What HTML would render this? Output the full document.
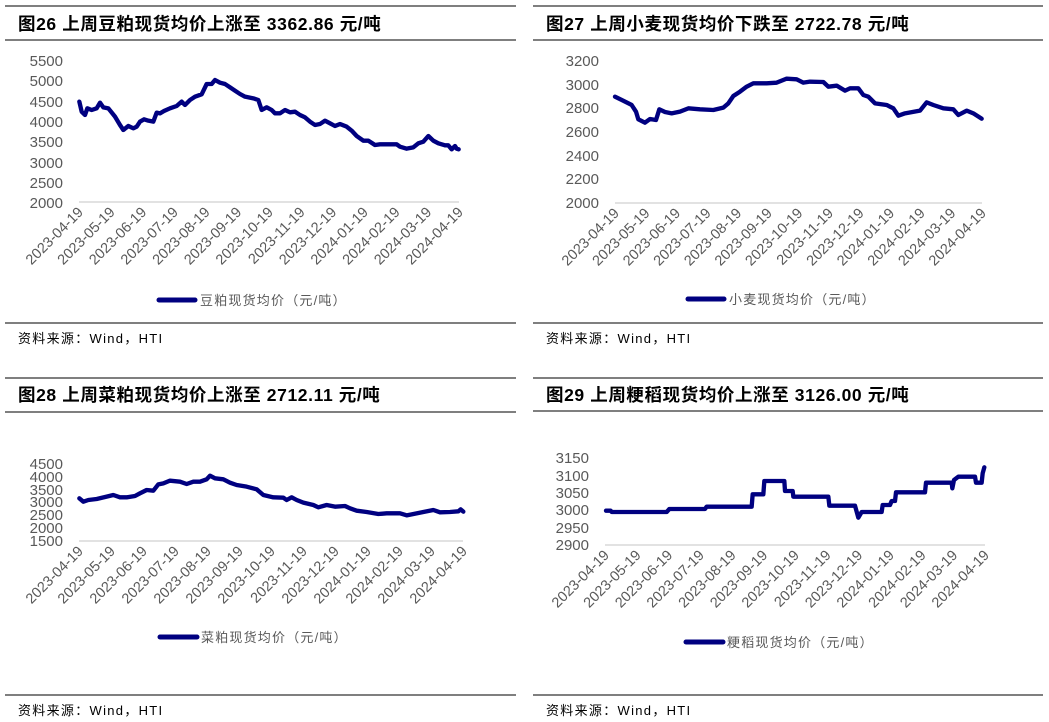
<!DOCTYPE html>
<html><head><meta charset="utf-8"><style>
body{margin:0;background:#fff}
svg{display:block;font-family:"Liberation Sans","Noto Sans CJK SC",sans-serif}
.t{font-size:17.5px;font-weight:bold;fill:#000;letter-spacing:0.6px}
.y{font-size:15px;fill:#595959;text-anchor:end}
.x text{font-size:14.5px;fill:#595959;text-anchor:end}
.lg{font-size:13px;fill:#595959;letter-spacing:1.2px}
.src{font-size:13px;fill:#000;letter-spacing:1.3px}
.s{fill:none;stroke:#000080;stroke-width:13;stroke-linejoin:round;stroke-linecap:round}
</style></head><body>
<svg width="1049" height="722" viewBox="0 0 1049 722">
<g stroke="#555" stroke-width="1.5">
<line x1="5" y1="6" x2="516" y2="6"/><line x1="5" y1="40" x2="516" y2="40"/><line x1="5" y1="323" x2="516" y2="323"/>
<line x1="533" y1="6" x2="1043" y2="6"/><line x1="533" y1="40" x2="1043" y2="40"/><line x1="533" y1="323" x2="1043" y2="323"/>
<line x1="5" y1="378" x2="516" y2="378"/><line x1="5" y1="412" x2="516" y2="412"/><line x1="5" y1="695" x2="516" y2="695"/>
<line x1="533" y1="378" x2="1043" y2="378"/><line x1="533" y1="411" x2="1043" y2="411"/><line x1="533" y1="695" x2="1043" y2="695"/>
</g>
<text class="t" x="18" y="30">图26 上周豆粕现货均价上涨至 3362.86 元/吨</text>
<text class="t" x="546" y="30">图27 上周小麦现货均价下跌至 2722.78 元/吨</text>
<text class="t" x="18" y="401">图28 上周菜粕现货均价上涨至 2712.11 元/吨</text>
<text class="t" x="546" y="401">图29 上周粳稻现货均价上涨至 3126.00 元/吨</text>
<text class="src" x="18" y="343">资料来源：Wind，HTI</text>
<text class="src" x="546" y="343">资料来源：Wind，HTI</text>
<text class="src" x="18" y="715">资料来源：Wind，HTI</text>
<text class="src" x="546" y="715">资料来源：Wind，HTI</text>

<g stroke="#d9d9d9" stroke-width="1.5">
<line x1="79" y1="202" x2="459" y2="202"/><line x1="615" y1="203" x2="982" y2="203"/>
<line x1="79" y1="541" x2="463" y2="541"/><line x1="605" y1="545" x2="985" y2="545"/>
</g>

<g class="y">
<text x="63" y="66">5500</text><text x="63" y="86">5000</text><text x="63" y="107">4500</text><text x="63" y="127">4000</text><text x="63" y="147">3500</text><text x="63" y="168">3000</text><text x="63" y="188">2500</text><text x="63" y="208">2000</text>
<text x="599" y="66">3200</text><text x="599" y="90">3000</text><text x="599" y="113">2800</text><text x="599" y="137">2600</text><text x="599" y="161">2400</text><text x="599" y="184">2200</text><text x="599" y="208">2000</text>
<text x="63" y="469">4500</text><text x="63" y="482">4000</text><text x="63" y="495">3500</text><text x="63" y="507">3000</text><text x="63" y="520">2500</text><text x="63" y="533">2000</text><text x="63" y="546">1500</text>
<text x="589" y="463">3150</text><text x="589" y="481">3100</text><text x="589" y="498">3050</text><text x="589" y="515">3000</text><text x="589" y="533">2950</text><text x="589" y="550">2900</text>
</g>

<g class="x" transform="translate(84,213)">
<text transform="translate(0,0) rotate(-45)">2023-04-19</text><text transform="translate(31.7,0) rotate(-45)">2023-05-19</text><text transform="translate(63.3,0) rotate(-45)">2023-06-19</text><text transform="translate(95,0) rotate(-45)">2023-07-19</text><text transform="translate(126.7,0) rotate(-45)">2023-08-19</text><text transform="translate(158.3,0) rotate(-45)">2023-09-19</text><text transform="translate(190,0) rotate(-45)">2023-10-19</text><text transform="translate(221.7,0) rotate(-45)">2023-11-19</text><text transform="translate(253.3,0) rotate(-45)">2023-12-19</text><text transform="translate(285,0) rotate(-45)">2024-01-19</text><text transform="translate(316.7,0) rotate(-45)">2024-02-19</text><text transform="translate(348.3,0) rotate(-45)">2024-03-19</text><text transform="translate(380,0) rotate(-45)">2024-04-19</text>
</g>
<g class="x" transform="translate(620,214)">
<text transform="translate(0,0) rotate(-45)">2023-04-19</text><text transform="translate(30.6,0) rotate(-45)">2023-05-19</text><text transform="translate(61.2,0) rotate(-45)">2023-06-19</text><text transform="translate(91.7,0) rotate(-45)">2023-07-19</text><text transform="translate(122.3,0) rotate(-45)">2023-08-19</text><text transform="translate(152.9,0) rotate(-45)">2023-09-19</text><text transform="translate(183.5,0) rotate(-45)">2023-10-19</text><text transform="translate(214.1,0) rotate(-45)">2023-11-19</text><text transform="translate(244.7,0) rotate(-45)">2023-12-19</text><text transform="translate(275.2,0) rotate(-45)">2024-01-19</text><text transform="translate(305.8,0) rotate(-45)">2024-02-19</text><text transform="translate(336.4,0) rotate(-45)">2024-03-19</text><text transform="translate(367,0) rotate(-45)">2024-04-19</text>
</g>
<g class="x" transform="translate(84,552)">
<text transform="translate(0,0) rotate(-45)">2023-04-19</text><text transform="translate(32,0) rotate(-45)">2023-05-19</text><text transform="translate(64,0) rotate(-45)">2023-06-19</text><text transform="translate(96,0) rotate(-45)">2023-07-19</text><text transform="translate(128,0) rotate(-45)">2023-08-19</text><text transform="translate(160,0) rotate(-45)">2023-09-19</text><text transform="translate(192,0) rotate(-45)">2023-10-19</text><text transform="translate(224,0) rotate(-45)">2023-11-19</text><text transform="translate(256,0) rotate(-45)">2023-12-19</text><text transform="translate(288,0) rotate(-45)">2024-01-19</text><text transform="translate(320,0) rotate(-45)">2024-02-19</text><text transform="translate(352,0) rotate(-45)">2024-03-19</text><text transform="translate(384,0) rotate(-45)">2024-04-19</text>
</g>
<g class="x" transform="translate(610,556)">
<text transform="translate(0,0) rotate(-45)">2023-04-19</text><text transform="translate(31.7,0) rotate(-45)">2023-05-19</text><text transform="translate(63.3,0) rotate(-45)">2023-06-19</text><text transform="translate(95,0) rotate(-45)">2023-07-19</text><text transform="translate(126.7,0) rotate(-45)">2023-08-19</text><text transform="translate(158.3,0) rotate(-45)">2023-09-19</text><text transform="translate(190,0) rotate(-45)">2023-10-19</text><text transform="translate(221.7,0) rotate(-45)">2023-11-19</text><text transform="translate(253.3,0) rotate(-45)">2023-12-19</text><text transform="translate(285,0) rotate(-45)">2024-01-19</text><text transform="translate(316.7,0) rotate(-45)">2024-02-19</text><text transform="translate(348.3,0) rotate(-45)">2024-03-19</text><text transform="translate(380,0) rotate(-45)">2024-04-19</text>
</g>

<g transform="scale(0.33333)">
<polyline class="s" points="238,305 245,335 255,345 262,325 275,330 290,325 300,308 310,322 325,325 345,350 360,375 370,390 385,378 400,385 410,380 420,365 432,358 445,362 460,365 470,338 480,340 492,333 510,325 530,318 545,305 555,315 570,300 585,290 605,283 620,252 635,252 645,240 660,248 675,252 690,262 705,272 720,282 735,290 760,295 775,300 785,330 800,322 815,330 825,340 840,340 855,330 870,337 885,335 900,345 915,352 930,365 945,375 960,372 975,362 990,370 1005,378 1020,372 1040,380 1055,392 1070,408 1090,422 1105,422 1125,435 1140,433 1160,433 1190,433 1200,440 1220,446 1240,442 1255,430 1270,425 1285,408 1300,422 1315,430 1335,436 1345,436 1355,448 1365,438 1370,446 1376,448"/>
</g>
<g transform="translate(600,50) scale(0.33333)">
<polyline class="s" points="45,140 65,150 95,165 108,185 115,208 135,218 150,207 168,210 178,178 195,186 215,190 240,185 265,175 300,178 340,180 370,173 385,160 400,138 420,125 440,110 460,100 500,100 530,98 560,86 590,88 610,98 630,95 670,96 685,110 710,107 735,122 750,115 775,115 790,135 805,140 825,160 860,165 880,175 895,197 915,190 960,182 980,157 1000,165 1030,175 1060,178 1075,195 1100,182 1120,190 1145,206"/>
</g>
<g transform="translate(20,450) scale(0.33333)">
<polyline class="s" points="178,145 190,155 205,150 230,147 260,140 280,135 300,142 320,142 345,138 360,130 380,120 400,122 415,103 430,100 450,92 480,95 500,102 520,95 540,95 560,88 570,77 585,85 610,88 630,98 650,105 680,110 710,118 730,135 760,142 790,143 800,150 815,142 830,150 850,158 880,165 895,172 920,165 945,170 975,168 990,175 1010,182 1040,186 1075,192 1100,190 1140,190 1160,196 1175,193 1210,186 1240,180 1260,187 1290,186 1315,184 1322,178 1330,185"/>
</g>
<g transform="translate(520,370) scale(0.33333)">
<polyline class="s" points="258,422 272,422 275,426 440,426 448,417 555,417 560,410 695,410 698,373 730,373 733,333 793,333 795,363 818,363 820,380 925,380 928,407 1005,407 1015,443 1025,426 1085,426 1088,405 1110,405 1115,393 1125,393 1128,367 1215,367 1218,338 1295,338 1297,355 1302,330 1315,320 1365,320 1368,338 1385,338 1388,310 1393,292"/>
</g>

<g stroke="#000080" stroke-width="5" stroke-linecap="round">
<line x1="159" y1="300" x2="195" y2="300"/><line x1="688" y1="299" x2="724" y2="299"/>
<line x1="160" y1="637" x2="197" y2="637"/><line x1="686" y1="642" x2="723" y2="642"/>
</g>
<text class="lg" x="200" y="305">豆粕现货均价（元/吨）</text>
<text class="lg" x="729" y="304">小麦现货均价（元/吨）</text>
<text class="lg" x="201" y="642">菜粕现货均价（元/吨）</text>
<text class="lg" x="727" y="647">粳稻现货均价（元/吨）</text>
</svg>
</body></html>
